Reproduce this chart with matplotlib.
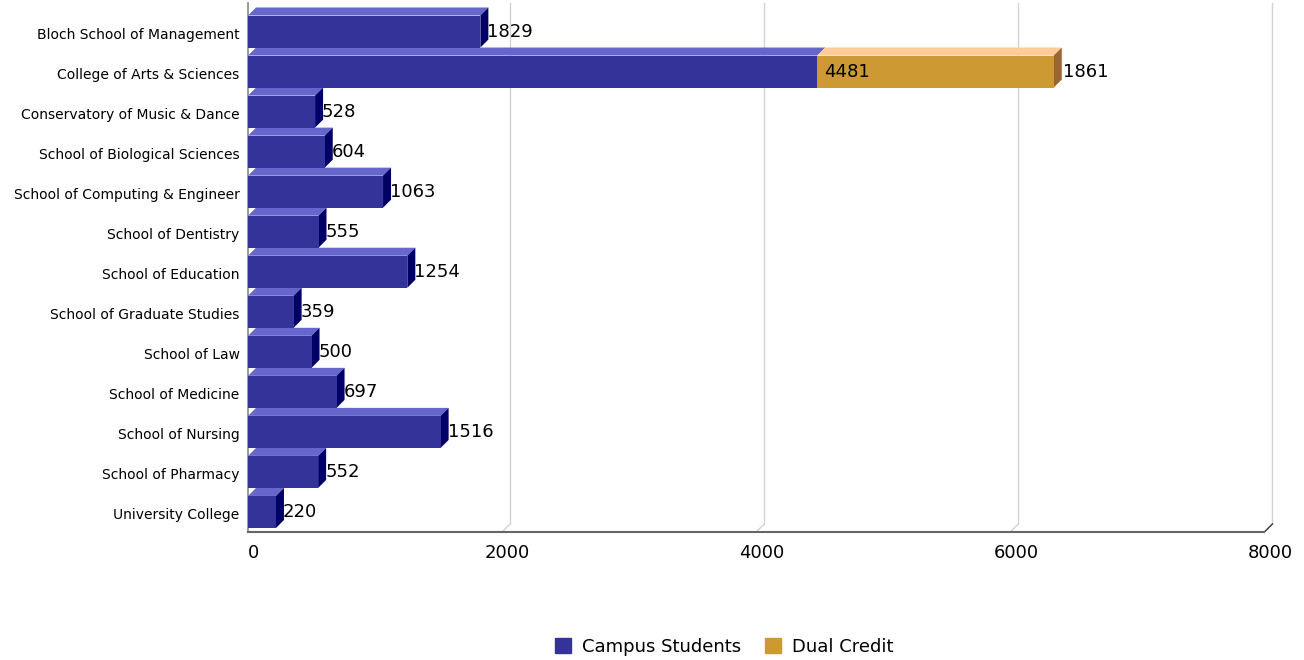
import matplotlib
matplotlib.use("Agg")
import matplotlib.pyplot as plt
from matplotlib.patches import Polygon, Patch

schools = ["Bloch School of Management", "College of Arts & Sciences",
           "Conservatory of Music & Dance", "School of Biological Sciences",
           "School of Computing & Engineer", "School of Dentistry",
           "School of Education", "School of Graduate Studies", "School of Law",
           "School of Medicine", "School of Nursing", "School of Pharmacy",
           "University College"]
campus = [1829, 4481, 528, 604, 1063, 555, 1254, 359, 500, 697, 1516, 552, 220]
dual = [0, 1861, 0, 0, 0, 0, 0, 0, 0, 0, 0, 0, 0]
xticks = [0, 2000, 4000, 6000, 8000]

# colours: front, top, side
campus_col = ("#333399", "#6666CC", "#000066")
dual_col = ("#CC9933", "#FFCC99", "#996633")

DX = 63      # depth in x data units (~8px)
DY = 0.2     # depth in row units (~8px)
H = 0.8      # bar thickness

plt.rcParams["font.family"] = ["DejaVu Sans"]
fig = plt.figure(figsize=(13.04, 6.60), dpi=100)
ax = fig.add_axes([248 / 1304, 128 / 660, 1022 / 1304, 520.5 / 660])
ax.set_xlim(0, 8000)
ax.set_ylim(12.5, -0.5)
for s in ax.spines.values():
    s.set_visible(False)

# back-plane grid lines with floor diagonals
top = -0.5 - DY
bot = 12.5
for v in xticks[1:]:
    ax.plot([v + DX, v + DX], [top, bot - DY], color="#d4d4d4", lw=1, clip_on=False, zorder=0)
    ax.plot([v + DX, v], [bot - DY, bot], color="#d4d4d4" if v < 8000 else "#333333",
            lw=1, clip_on=False, zorder=0)
ax.plot([0, 0], [top, bot], color="#888888", lw=1.2, clip_on=False, zorder=0)
ax.plot([0, 8000], [bot, bot], color="#666666", lw=1.5, clip_on=False, zorder=0)


def faces(x0, x1, y, col, side):
    yt = y - H / 2
    yb = y + H / 2
    ax.add_patch(Polygon([(x0, yt), (x1, yt), (x1 + DX, yt - DY), (x0 + DX, yt - DY)],
                         closed=True, fc=col[1], ec="none", clip_on=False, zorder=2))
    if side:
        ax.add_patch(Polygon([(x1, yt), (x1 + DX, yt - DY), (x1 + DX, yb - DY), (x1, yb)],
                             closed=True, fc=col[2], ec="none", clip_on=False, zorder=2))


ypos = list(range(len(schools)))
ax.barh(ypos, campus, height=H, color=campus_col[0], zorder=3)
ax.barh(ypos, dual, left=campus, height=H, color=dual_col[0], zorder=3)

for i in ypos:
    c = campus[i]
    d = dual[i]
    faces(0, c, i, campus_col, d == 0)
    ax.annotate(str(c), (c, i), xytext=(5, 0), textcoords="offset points",
                va="center", ha="left", fontsize=13, color="black", zorder=5)
    if d:
        faces(c, c + d, i, dual_col, True)
        ax.annotate(str(d), (c + d, i), xytext=(6.5, 0), textcoords="offset points",
                    va="center", ha="left", fontsize=13, color="black", zorder=5)

ax.set_yticks([y + 0.05 for y in ypos])
ax.set_yticklabels(schools, fontsize=10)
ax.set_xticks([v + DX * 0.7 for v in xticks])
ax.set_xticklabels([str(v) for v in xticks], fontsize=13)
ax.tick_params(length=0)
ax.tick_params(axis="y", pad=6)
ax.tick_params(axis="x", pad=9)

handles = [Patch(color=campus_col[0], label="Campus Students"),
           Patch(color=dual_col[0], label="Dual Credit")]
fig.legend(handles=handles, loc="center", bbox_to_anchor=(724 / 1304, 1 - 647 / 660),
           ncol=2, frameon=False, fontsize=13, handlelength=0.9, handleheight=0.9,
           handletextpad=0.6, columnspacing=1.3)

fig.savefig("out.png", dpi=100)
